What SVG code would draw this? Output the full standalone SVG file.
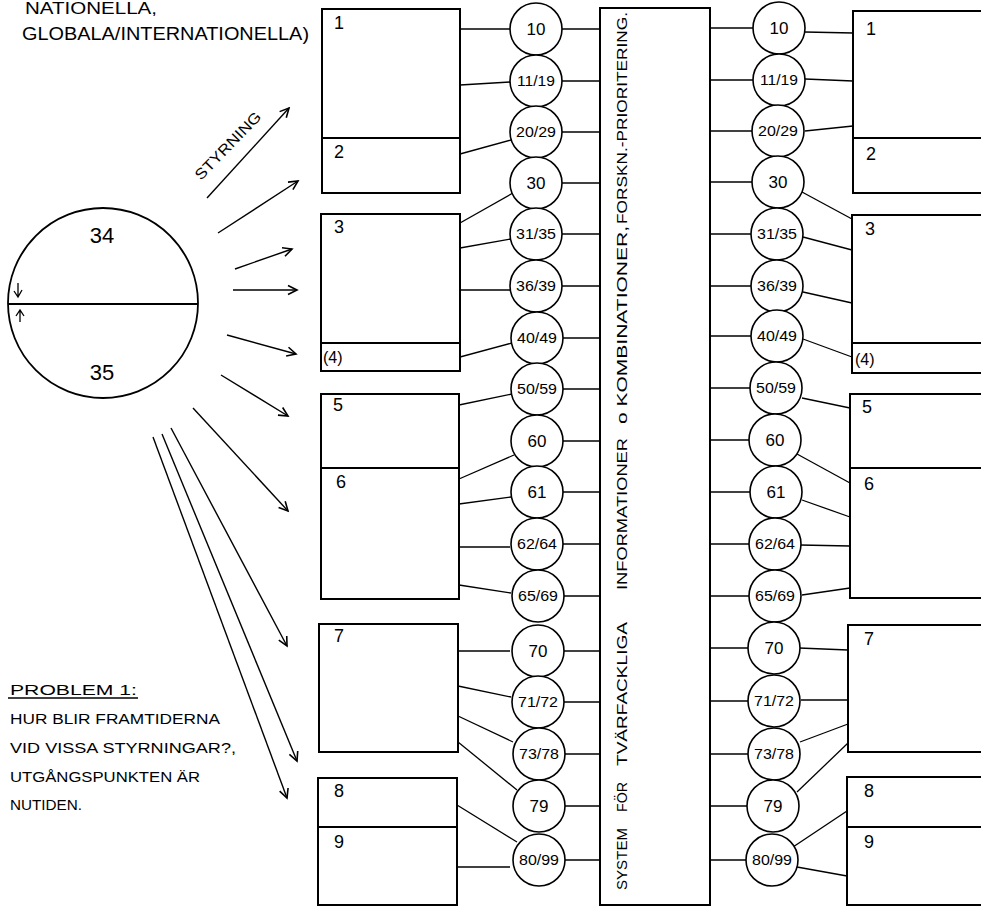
<svg xmlns="http://www.w3.org/2000/svg" width="981" height="909" viewBox="0 0 981 909">
<style>
text{font-family:"Liberation Sans",Arial,sans-serif;fill:#000}
.box{fill:none;stroke:#000;stroke-width:2}
.div{stroke:#000;stroke-width:1.8}
.cir{fill:#fff;stroke:#000;stroke-width:1.6}
.ln{stroke:#000;stroke-width:1.3;fill:none}
.arr{stroke:#000;stroke-width:1.4;fill:none;marker-end:url(#ah)}
.lbl{font-size:18px}
.cl{font-size:15px;text-anchor:middle}
.hw{font-size:15px}
</style>
<defs>
<marker id="ah" markerWidth="12" markerHeight="12" refX="10" refY="5" orient="auto" markerUnits="userSpaceOnUse" viewBox="0 0 12 10">
<path d="M1,0.5 L10,5 L1,9.5" fill="none" stroke="#000" stroke-width="1.6"/>
</marker>
</defs>
<rect width="981" height="909" fill="#fff"/>

<g id="header-text">
<text x="25" y="14" textLength="132" lengthAdjust="spacingAndGlyphs" style="font-size:17px">NATIONELLA,</text>
<text x="22" y="40" textLength="287" lengthAdjust="spacingAndGlyphs" style="font-size:18px">GLOBALA/INTERNATIONELLA)</text>
</g>

<g id="globe">
<circle cx="103" cy="303" r="95" fill="none" stroke="#000" stroke-width="1.8"/>
<line x1="8" y1="304" x2="198" y2="304" stroke="#000" stroke-width="2"/>
<text x="102" y="243" text-anchor="middle" font-size="22">34</text>
<text x="102" y="380" text-anchor="middle" font-size="22">35</text>
<path d="M18,283 L18,297 M14,291 L18,297 L22,290" class="ln"/>
<path d="M20,322 L20,310 M16,316 L20,310 L24,316" class="ln"/>
</g>

<g id="styrning">
<text transform="translate(201,181) rotate(-46)" font-size="15" textLength="88" lengthAdjust="spacingAndGlyphs">STYRNING</text>
</g>

<g id="problem-text">
<text class="hw" x="10" y="695" textLength="127" lengthAdjust="spacingAndGlyphs">PROBLEM 1:</text>
<line x1="8" y1="698" x2="138" y2="698" stroke="#000" stroke-width="1.3"/>
<text class="hw" x="10" y="724" textLength="210" lengthAdjust="spacingAndGlyphs">HUR BLIR FRAMTIDERNA</text>
<text class="hw" x="10" y="753" textLength="226" lengthAdjust="spacingAndGlyphs">VID VISSA STYRNINGAR?,</text>
<text class="hw" x="10" y="782" textLength="190" lengthAdjust="spacingAndGlyphs">UTGÅNGSPUNKTEN ÄR</text>
<text class="hw" x="10" y="810" textLength="72" lengthAdjust="spacingAndGlyphs">NUTIDEN.</text>
</g>

<g id="connectors">
<line class="arr" x1="207" y1="198" x2="289" y2="108"/>
<line class="arr" x1="218" y1="233" x2="298" y2="181"/>
<line class="arr" x1="235" y1="269" x2="292" y2="249"/>
<line class="arr" x1="233" y1="290" x2="297" y2="290"/>
<line class="arr" x1="227" y1="335" x2="296" y2="354"/>
<line class="arr" x1="221" y1="375" x2="288" y2="416"/>
<line class="arr" x1="193" y1="408" x2="288" y2="511"/>
<line class="arr" x1="171" y1="428" x2="287" y2="646"/>
<line class="arr" x1="162" y1="434" x2="297" y2="761"/>
<line class="arr" x1="153" y1="437" x2="287" y2="798"/>

<line class="ln" x1="460" y1="29" x2="510" y2="29"/>
<line class="ln" x1="460" y1="85" x2="510" y2="82"/>
<line class="ln" x1="460" y1="154" x2="511" y2="140"/>
<line class="ln" x1="460" y1="223" x2="513" y2="193"/>
<line class="ln" x1="460" y1="248" x2="511" y2="239"/>
<line class="ln" x1="460" y1="290" x2="510" y2="290"/>
<line class="ln" x1="460" y1="357" x2="512" y2="343"/>
<line class="ln" x1="459" y1="405" x2="512" y2="394"/>
<line class="ln" x1="459" y1="479" x2="514" y2="455"/>
<line class="ln" x1="459" y1="504" x2="511" y2="497"/>
<line class="ln" x1="459" y1="547" x2="510" y2="547"/>
<line class="ln" x1="459" y1="585" x2="511" y2="593"/>
<line class="ln" x1="458" y1="651" x2="510" y2="651"/>
<line class="ln" x1="458" y1="686" x2="511" y2="697"/>
<line class="ln" x1="458" y1="716" x2="513" y2="742"/>
<line class="ln" x1="458" y1="742" x2="517" y2="790"/>
<line class="ln" x1="457" y1="805" x2="517" y2="842"/>
<line class="ln" x1="457" y1="867" x2="510" y2="867"/>

<line class="ln" x1="562" y1="29" x2="600" y2="29"/>
<line class="ln" x1="562" y1="81" x2="600" y2="81"/>
<line class="ln" x1="562" y1="132" x2="600" y2="132"/>
<line class="ln" x1="562" y1="183" x2="600" y2="183"/>
<line class="ln" x1="562" y1="234" x2="600" y2="234"/>
<line class="ln" x1="562" y1="286" x2="600" y2="286"/>
<line class="ln" x1="562" y1="338" x2="600" y2="338"/>
<line class="ln" x1="562" y1="389" x2="600" y2="389"/>
<line class="ln" x1="562" y1="441" x2="600" y2="441"/>
<line class="ln" x1="562" y1="492" x2="600" y2="492"/>
<line class="ln" x1="562" y1="544" x2="600" y2="544"/>
<line class="ln" x1="562" y1="596" x2="600" y2="596"/>
<line class="ln" x1="562" y1="651" x2="600" y2="651"/>
<line class="ln" x1="562" y1="702" x2="600" y2="702"/>
<line class="ln" x1="562" y1="754" x2="600" y2="754"/>
<line class="ln" x1="562" y1="806" x2="600" y2="806"/>
<line class="ln" x1="562" y1="860" x2="600" y2="860"/>

<line class="ln" x1="710" y1="28" x2="753" y2="28"/>
<line class="ln" x1="710" y1="80" x2="753" y2="80"/>
<line class="ln" x1="710" y1="131" x2="752" y2="131"/>
<line class="ln" x1="710" y1="182" x2="752" y2="182"/>
<line class="ln" x1="710" y1="234" x2="752" y2="234"/>
<line class="ln" x1="710" y1="286" x2="752" y2="286"/>
<line class="ln" x1="710" y1="336" x2="751" y2="336"/>
<line class="ln" x1="710" y1="388" x2="751" y2="388"/>
<line class="ln" x1="710" y1="440" x2="750" y2="440"/>
<line class="ln" x1="710" y1="492" x2="750" y2="492"/>
<line class="ln" x1="710" y1="544" x2="750" y2="544"/>
<line class="ln" x1="710" y1="596" x2="749" y2="596"/>
<line class="ln" x1="710" y1="648" x2="749" y2="648"/>
<line class="ln" x1="710" y1="701" x2="748" y2="701"/>
<line class="ln" x1="710" y1="754" x2="748" y2="754"/>
<line class="ln" x1="710" y1="806" x2="747" y2="806"/>
<line class="ln" x1="710" y1="860" x2="747" y2="860"/>

<line class="ln" x1="805" y1="32" x2="853" y2="33"/>
<line class="ln" x1="805" y1="79" x2="853" y2="81"/>
<line class="ln" x1="805" y1="131" x2="853" y2="126"/>
<line class="ln" x1="802" y1="192" x2="852" y2="219"/>
<line class="ln" x1="803" y1="237" x2="852" y2="250"/>
<line class="ln" x1="803" y1="292" x2="852" y2="303"/>
<line class="ln" x1="803" y1="339" x2="852" y2="357"/>
<line class="ln" x1="802" y1="398" x2="850" y2="408"/>
<line class="ln" x1="797" y1="454" x2="850" y2="483"/>
<line class="ln" x1="802" y1="500" x2="850" y2="517"/>
<line class="ln" x1="800" y1="545" x2="850" y2="546"/>
<line class="ln" x1="802" y1="595" x2="850" y2="588"/>
<line class="ln" x1="799" y1="648" x2="848" y2="650"/>
<line class="ln" x1="801" y1="700" x2="848" y2="700"/>
<line class="ln" x1="800" y1="742" x2="848" y2="724"/>
<line class="ln" x1="797" y1="792" x2="848" y2="743"/>
<line class="ln" x1="793" y1="847" x2="847" y2="811"/>
<line class="ln" x1="797" y1="867" x2="847" y2="876"/>
</g>

<g id="left-box-1-2">
<rect class="box" x="322" y="9" width="138" height="184"/>
<line class="div" x1="322" y1="138" x2="460" y2="138"/>
<text class="lbl" x="334" y="29">1</text>
<text class="lbl" x="334" y="158">2</text>
</g>
<g id="left-box-3-4">
<rect class="box" x="321" y="214" width="139" height="157"/>
<line class="div" x1="321" y1="343" x2="460" y2="343"/>
<text class="lbl" x="334" y="233">3</text>
<text x="323" y="363" style="font-size:16px">(4)</text>
</g>
<g id="left-box-5-6">
<rect class="box" x="321" y="394" width="138" height="205"/>
<line class="div" x1="321" y1="468" x2="459" y2="468"/>
<text class="lbl" x="333" y="411">5</text>
<text class="lbl" x="336" y="488">6</text>
</g>
<g id="left-box-7">
<rect class="box" x="319" y="624" width="139" height="128"/>
<text class="lbl" x="334" y="642">7</text>
</g>
<g id="left-box-8-9">
<rect class="box" x="318" y="778" width="139" height="127"/>
<line class="div" x1="318" y1="827" x2="457" y2="827"/>
<text class="lbl" x="334" y="797">8</text>
<text class="lbl" x="334" y="848">9</text>
</g>

<g id="central-box">
<rect class="box" x="600" y="8" width="110" height="897"/>
<g transform="translate(627,0) rotate(-90)" font-size="15">
<text x="-890" y="0" textLength="62" lengthAdjust="spacingAndGlyphs">SYSTEM</text>
<text x="-812" y="0" textLength="30" lengthAdjust="spacingAndGlyphs">FÖR</text>
<text x="-766" y="0" textLength="144" lengthAdjust="spacingAndGlyphs">TVÄRFACKLIGA</text>
<text x="-590" y="0" textLength="152" lengthAdjust="spacingAndGlyphs">INFORMATIONER</text>
<text x="-424" y="0" textLength="198" lengthAdjust="spacingAndGlyphs">o KOMBINATIONER,</text>
<text x="-224" y="0" textLength="212" lengthAdjust="spacingAndGlyphs">FORSKN.-PRIORITERING.</text>
</g>
</g>

<g id="left-circles">
<g id="lc-10"><circle class="cir" cx="536" cy="29" r="26"/><text class="cl" x="536" y="35" style="font-size:17px">10</text></g>
<g id="lc-11-19"><circle class="cir" cx="536" cy="81" r="26"/><text class="cl" x="536" y="86" textLength="38" lengthAdjust="spacingAndGlyphs">11/19</text></g>
<g id="lc-20-29"><circle class="cir" cx="536" cy="132" r="26"/><text class="cl" x="536" y="137" textLength="40" lengthAdjust="spacingAndGlyphs">20/29</text></g>
<g id="lc-30"><circle class="cir" cx="536" cy="183" r="26"/><text class="cl" x="536" y="189" style="font-size:17px">30</text></g>
<g id="lc-31-35"><circle class="cir" cx="536" cy="234" r="26"/><text class="cl" x="536" y="239" textLength="40" lengthAdjust="spacingAndGlyphs">31/35</text></g>
<g id="lc-36-39"><circle class="cir" cx="536" cy="286" r="26"/><text class="cl" x="536" y="291" textLength="40" lengthAdjust="spacingAndGlyphs">36/39</text></g>
<g id="lc-40-49"><circle class="cir" cx="537" cy="338" r="26"/><text class="cl" x="537" y="343" textLength="40" lengthAdjust="spacingAndGlyphs">40/49</text></g>
<g id="lc-50-59"><circle class="cir" cx="537" cy="389" r="26"/><text class="cl" x="537" y="394" textLength="40" lengthAdjust="spacingAndGlyphs">50/59</text></g>
<g id="lc-60"><circle class="cir" cx="537" cy="441" r="26"/><text class="cl" x="537" y="447" style="font-size:17px">60</text></g>
<g id="lc-61"><circle class="cir" cx="537" cy="492" r="26"/><text class="cl" x="537" y="498" style="font-size:17px">61</text></g>
<g id="lc-62-64"><circle class="cir" cx="537" cy="544" r="26"/><text class="cl" x="537" y="549" textLength="40" lengthAdjust="spacingAndGlyphs">62/64</text></g>
<g id="lc-65-69"><circle class="cir" cx="538" cy="596" r="26"/><text class="cl" x="538" y="601" textLength="40" lengthAdjust="spacingAndGlyphs">65/69</text></g>
<g id="lc-70"><circle class="cir" cx="538" cy="651" r="26"/><text class="cl" x="538" y="657" style="font-size:17px">70</text></g>
<g id="lc-71-72"><circle class="cir" cx="538" cy="702" r="26"/><text class="cl" x="538" y="707" textLength="40" lengthAdjust="spacingAndGlyphs">71/72</text></g>
<g id="lc-73-78"><circle class="cir" cx="539" cy="754" r="26"/><text class="cl" x="539" y="759" textLength="40" lengthAdjust="spacingAndGlyphs">73/78</text></g>
<g id="lc-79"><circle class="cir" cx="539" cy="806" r="26"/><text class="cl" x="539" y="812" style="font-size:17px">79</text></g>
<g id="lc-80-99"><circle class="cir" cx="539" cy="860" r="26"/><text class="cl" x="539" y="865" textLength="40" lengthAdjust="spacingAndGlyphs">80/99</text></g>
</g>

<g id="right-circles">
<g id="rc-10"><circle class="cir" cx="779" cy="28" r="26"/><text class="cl" x="779" y="34" style="font-size:17px">10</text></g>
<g id="rc-11-19"><circle class="cir" cx="779" cy="80" r="26"/><text class="cl" x="779" y="85" textLength="38" lengthAdjust="spacingAndGlyphs">11/19</text></g>
<g id="rc-20-29"><circle class="cir" cx="778" cy="131" r="26"/><text class="cl" x="778" y="136" textLength="40" lengthAdjust="spacingAndGlyphs">20/29</text></g>
<g id="rc-30"><circle class="cir" cx="778" cy="182" r="26"/><text class="cl" x="778" y="188" style="font-size:17px">30</text></g>
<g id="rc-31-35"><circle class="cir" cx="777" cy="234" r="26"/><text class="cl" x="777" y="239" textLength="40" lengthAdjust="spacingAndGlyphs">31/35</text></g>
<g id="rc-36-39"><circle class="cir" cx="777" cy="286" r="26"/><text class="cl" x="777" y="291" textLength="40" lengthAdjust="spacingAndGlyphs">36/39</text></g>
<g id="rc-40-49"><circle class="cir" cx="777" cy="336" r="26"/><text class="cl" x="777" y="341" textLength="40" lengthAdjust="spacingAndGlyphs">40/49</text></g>
<g id="rc-50-59"><circle class="cir" cx="776" cy="388" r="26"/><text class="cl" x="776" y="393" textLength="40" lengthAdjust="spacingAndGlyphs">50/59</text></g>
<g id="rc-60"><circle class="cir" cx="775" cy="440" r="26"/><text class="cl" x="775" y="446" style="font-size:17px">60</text></g>
<g id="rc-61"><circle class="cir" cx="776" cy="492" r="26"/><text class="cl" x="776" y="498" style="font-size:17px">61</text></g>
<g id="rc-62-64"><circle class="cir" cx="775" cy="544" r="26"/><text class="cl" x="775" y="549" textLength="40" lengthAdjust="spacingAndGlyphs">62/64</text></g>
<g id="rc-65-69"><circle class="cir" cx="775" cy="596" r="26"/><text class="cl" x="775" y="601" textLength="40" lengthAdjust="spacingAndGlyphs">65/69</text></g>
<g id="rc-70"><circle class="cir" cx="774" cy="648" r="26"/><text class="cl" x="774" y="654" style="font-size:17px">70</text></g>
<g id="rc-71-72"><circle class="cir" cx="774" cy="701" r="26"/><text class="cl" x="774" y="706" textLength="40" lengthAdjust="spacingAndGlyphs">71/72</text></g>
<g id="rc-73-78"><circle class="cir" cx="774" cy="754" r="26"/><text class="cl" x="774" y="759" textLength="40" lengthAdjust="spacingAndGlyphs">73/78</text></g>
<g id="rc-79"><circle class="cir" cx="773" cy="806" r="26"/><text class="cl" x="773" y="812" style="font-size:17px">79</text></g>
<g id="rc-80-99"><circle class="cir" cx="772" cy="860" r="26"/><text class="cl" x="772" y="865" textLength="40" lengthAdjust="spacingAndGlyphs">80/99</text></g>
</g>

<g id="right-box-1-2">
<rect class="box" x="853" y="11" width="200" height="182"/>
<line class="div" x1="853" y1="138" x2="981" y2="138"/>
<text class="lbl" x="866" y="35">1</text>
<text class="lbl" x="866" y="160">2</text>
</g>
<g id="right-box-3-4">
<rect class="box" x="852" y="215" width="200" height="158"/>
<line class="div" x1="852" y1="343" x2="981" y2="343"/>
<text class="lbl" x="865" y="235">3</text>
<text x="855" y="365" style="font-size:16px">(4)</text>
</g>
<g id="right-box-5-6">
<rect class="box" x="850" y="394" width="200" height="204"/>
<line class="div" x1="850" y1="468" x2="981" y2="468"/>
<text class="lbl" x="862" y="413">5</text>
<text class="lbl" x="864" y="490">6</text>
</g>
<g id="right-box-7">
<rect class="box" x="848" y="625" width="200" height="127"/>
<text class="lbl" x="864" y="645">7</text>
</g>
<g id="right-box-8-9">
<rect class="box" x="847" y="777" width="200" height="128"/>
<line class="div" x1="847" y1="827" x2="981" y2="827"/>
<text class="lbl" x="864" y="797">8</text>
<text class="lbl" x="864" y="848">9</text>
</g>
</svg>
